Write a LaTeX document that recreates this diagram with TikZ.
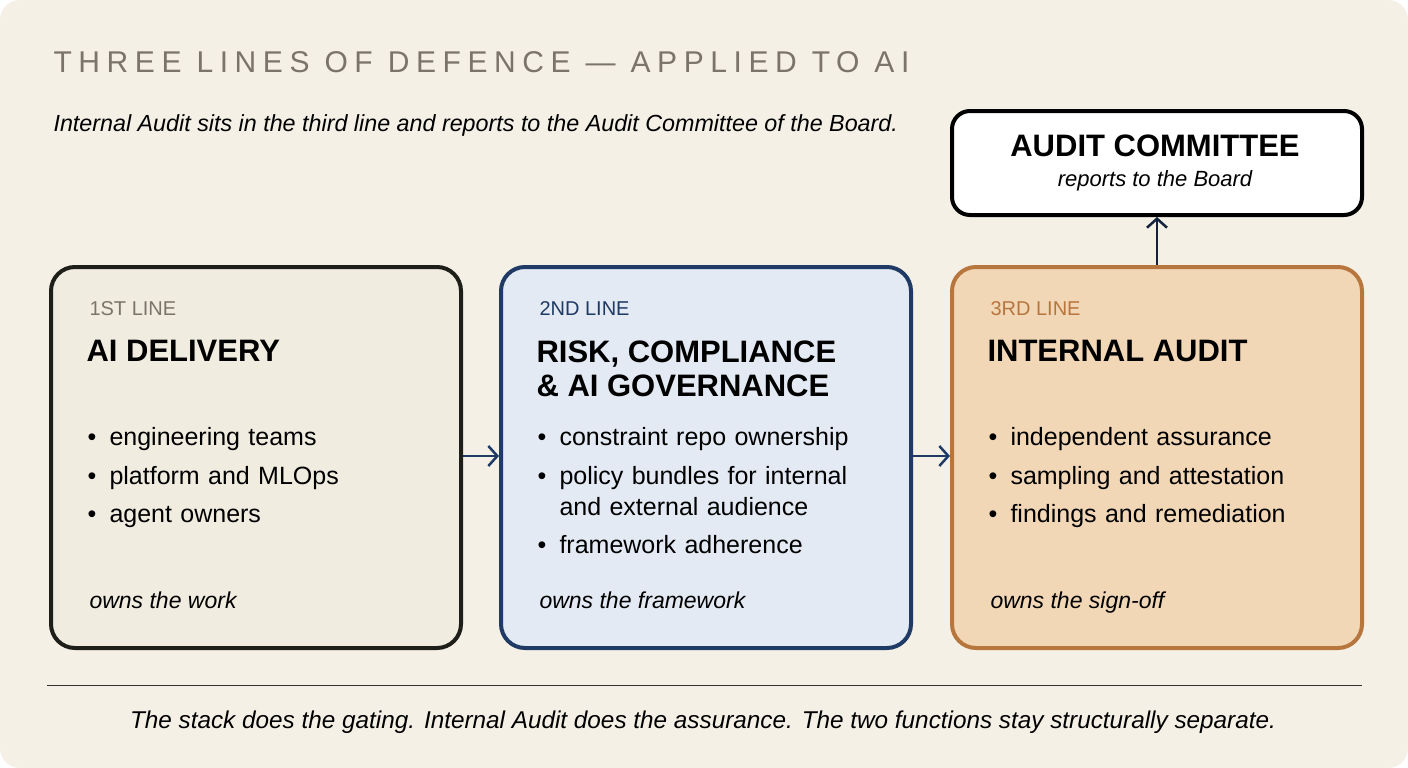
\documentclass[tikz,border=0pt]{standalone}
\usepackage{fontspec}
\setmainfont{Liberation Sans}
\usetikzlibrary{arrows.meta}
\definecolor{bg}{HTML}{F4F0E6}
\definecolor{greyt}{HTML}{7A746A}
\definecolor{fillA}{HTML}{F1ECE0}
\definecolor{lineA}{HTML}{1F1F1A}
\definecolor{fillB}{HTML}{E3EAF3}
\definecolor{lineB}{HTML}{1F3A64}
\definecolor{fillC}{HTML}{F2D7B6}
\definecolor{lineC}{HTML}{B8763F}
\tikzset{
 box/.style={rounded corners=24pt, line width=4pt, minimum width=410pt, minimum height=381pt, anchor=north west},
 tag/.style={anchor=base west, font=\fontsize{20}{24}\selectfont},
 head/.style={anchor=north west, font=\fontsize{31}{34}\selectfont\bfseries, align=left},
 bul/.style={anchor=north west, font=\fontsize{25}{31}\selectfont, align=left, text width=340pt},
 own/.style={anchor=base west, font=\fontsize{23}{26}\selectfont\itshape},
 conn/.style={-{Straight Barb[length=9pt,width=20pt]}, line width=2.5pt, lineB},
}
\newcommand{\bitem}[1]{\hangindent=22pt\hangafter=1\makebox[22pt][l]{•}#1\par}
\begin{document}
\begin{tikzpicture}[x=1pt,y=-1pt]
\useasboundingbox (0,0) rectangle (1408,768);
\fill[bg, rounded corners=20pt] (0,0) rectangle (1408,768);
\node[anchor=west, text=greyt, font=\fontsize{30}{34}\selectfont\addfontfeature{LetterSpace=22}] (title) at (50,62) {THREE LINES OF DEFENCE — APPLIED TO AI};
\node[anchor=west, font=\fontsize{23.3}{26}\selectfont\itshape] (sub) at (50,125) {Internal Audit sits in the third line and reports to the Audit Committee of the Board.};
% committee
\node[draw=black, fill=white, rounded corners=18pt, line width=4pt, minimum width=410pt, minimum height=104pt, anchor=north west] (ac) at (950,109) {};
\node[font=\fontsize{31}{35}\selectfont\bfseries] (act) at (1155,146) {AUDIT COMMITTEE};
\node[font=\fontsize{22}{26}\selectfont\itshape] (acs) at (1155,181) {reports to the Board};
% boxes
\node[box, draw=lineA, fill=fillA] (b1) at (49,265) {};
\node[box, draw=lineB, fill=fillB] (b2) at (499,265) {};
\node[box, draw=lineC, fill=fillC] (b3) at (950,265) {};
\node[tag, text=greyt] (t1) at (86,315) {1ST LINE};
\node[tag, text=lineB] (t2) at (536,315) {2ND LINE};
\node[tag, text=lineC] (t3) at (987,315) {3RD LINE};
\node[head] (h1) at (83,337) {AI DELIVERY};
\node[head] (h2) at (533,337) {RISK, COMPLIANCE\\\& AI GOVERNANCE};
\node[head] (h3) at (984,337) {INTERNAL AUDIT};
\node[bul] (l1) at (84,424) {\parskip=7.5pt\bitem{engineering teams}\bitem{platform and MLOps}\bitem{agent owners}};
\node[bul] (l2) at (534,424) {\parskip=7.5pt\bitem{constraint repo ownership}\bitem{policy bundles for internal and external audience}\bitem{framework adherence}};
\node[bul] (l3) at (985,424) {\parskip=7.5pt\bitem{independent assurance}\bitem{sampling and attestation}\bitem{findings and remediation}};
\node[own] (o1) at (86,608) {owns the work};
\node[own] (o2) at (536,608) {owns the framework};
\node[own] (o3) at (987,608) {owns the sign-off};
\draw[conn] (b1.east |- 0,456) -- (b2.west |- 0,456);
\draw[conn] (b2.east |- 0,456) -- (b3.west |- 0,456);
\draw[conn, lineB!60!black] (b3.north) -- (ac.south);
\coordinate (ra) at (47,685); \coordinate (rb) at (1362,685);
\draw[line width=1pt, black!80] (ra) -- (rb);
\node[font=\fontsize{24.3}{27}\selectfont\itshape] (foot) at (703,722) {The stack does the gating. Internal Audit does the assurance. The two functions stay structurally separate.};
\end{tikzpicture}
\end{document}
